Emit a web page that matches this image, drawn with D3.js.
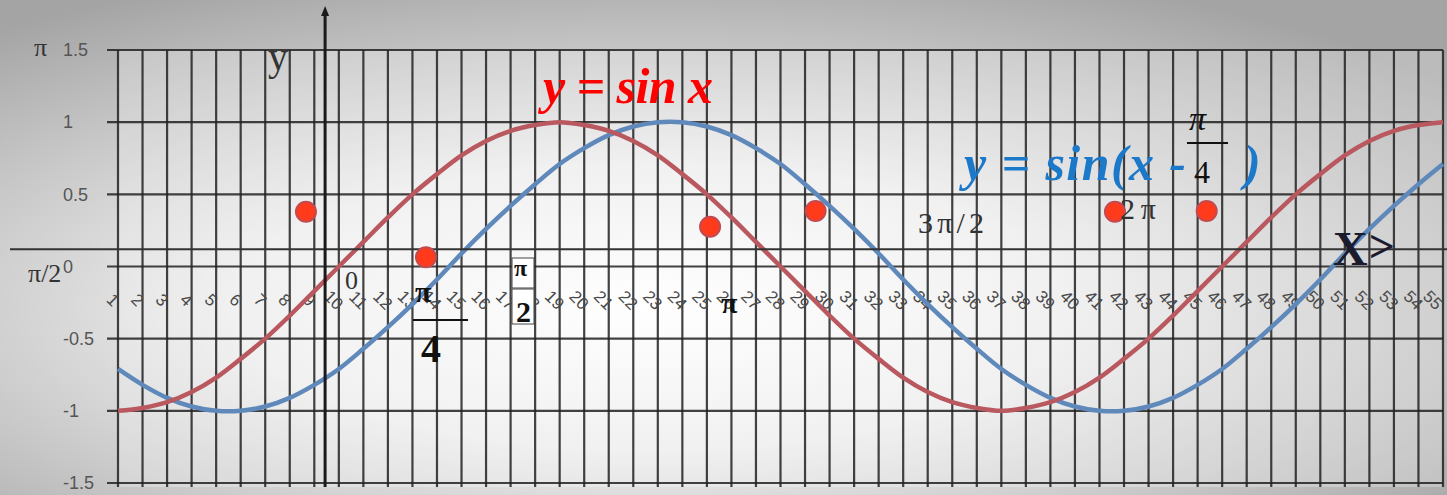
<!doctype html>
<html>
<head>
<meta charset="utf-8">
<script src="https://cdn.jsdelivr.net/npm/d3@7/dist/d3.min.js"></script>
<style>
  body {margin: 0; overflow: hidden;}
  svg {display: block;}
</style>
</head>
<body>
<svg width="1447" height="495"></svg>
<script>
// categories along the x axis (10 degree steps from -90 to 450)
const categories = [1,2,3,4,5,6,7,8,9,10,11,12,13,14,15,16,17,18,19,20,21,22,23,24,25,26,27,28,29,30,
  31,32,33,34,35,36,37,38,39,40,41,42,43,44,45,46,47,48,49,50,51,52,53,54,55];

// y = sin x
const sinValues = [-1,-0.98,-0.94,-0.87,-0.77,-0.64,-0.5,-0.34,-0.17,0,0.17,0.34,0.5,0.64,0.77,0.87,0.94,0.98,
  1,0.98,0.94,0.87,0.77,0.64,0.5,0.34,0.17,0,-0.17,-0.34,-0.5,-0.64,-0.77,-0.87,-0.94,-0.98,
  -1,-0.98,-0.94,-0.87,-0.77,-0.64,-0.5,-0.34,-0.17,0,0.17,0.34,0.5,0.64,0.77,0.87,0.94,0.98,1];

// y = sin(x - pi/4)
const shiftValues = [-0.71,-0.82,-0.91,-0.97,-1,-1,-0.97,-0.91,-0.82,-0.71,-0.57,-0.42,-0.26,-0.09,0.09,0.26,0.42,0.57,
  0.71,0.82,0.91,0.97,1,1,0.97,0.91,0.82,0.71,0.57,0.42,0.26,0.09,-0.09,-0.26,-0.42,-0.57,
  -0.71,-0.82,-0.91,-0.97,-1,-1,-0.97,-0.91,-0.82,-0.71,-0.57,-0.42,-0.26,-0.09,0.09,0.26,0.42,0.57,0.71];

// red dots pasted on the slide
const dotCats = [8.66, 13.55, 25.13, 29.43, 41.63, 45.37];
const dotValues = [0.38, 0.064, 0.276, 0.384, 0.38, 0.384];

const yTicks = [-1.5, -1, -0.5, 0, 0.5, 1, 1.5];

// hand drawn axes on top of the chart
const axisCat = 9.44;
const axisValue = 0.12;

const svg = d3.select('svg');
const W = 1447, H = 495;

const x = d3.scaleLinear().domain([1, 55]).range([118, 1443]);
const y = d3.scaleLinear().domain([-1.5, 1.5]).range([483, 50]);

// background
const defs = svg.append('defs');
const grad = defs.append('radialGradient').attr('id', 'bg')
  .attr('cx', '45%').attr('cy', '62%').attr('r', '72%');
grad.append('stop').attr('offset', '0%').attr('stop-color', '#ffffff');
grad.append('stop').attr('offset', '40%').attr('stop-color', '#ececec');
grad.append('stop').attr('offset', '100%').attr('stop-color', '#a4a4a4');
svg.append('rect').attr('width', W).attr('height', H).attr('fill', 'url(#bg)');

svg.append('rect')
  .attr('x', x(1)).attr('y', y(1.5))
  .attr('width', x(55) - x(1)).attr('height', y(-1.5) - y(1.5) + 4)
  .attr('fill', '#ffffff').attr('opacity', 0.25);

// vertical grid
svg.append('g').selectAll('line').data(categories).join('line')
  .attr('x1', d => x(d)).attr('x2', d => x(d))
  .attr('y1', y(1.5)).attr('y2', y(-1.5) + 4)
  .attr('stroke', '#222').attr('stroke-width', 2.2).attr('opacity', 0.85);

// horizontal grid
svg.append('g').selectAll('line').data(yTicks).join('line')
  .attr('x1', x(1) - 11).attr('x2', x(55))
  .attr('y1', d => y(d)).attr('y2', d => y(d))
  .attr('stroke', '#222').attr('stroke-width', 2.2).attr('opacity', 0.85);

// y labels
svg.append('g').selectAll('text').data(yTicks).join('text')
  .attr('x', 63).attr('y', d => y(d)).attr('dy', '0.35em')
  .attr('font-family', 'Liberation Sans, Arial, sans-serif').attr('font-size', 18)
  .attr('fill', '#555').text(d => String(d));

// category labels, rotated
svg.append('g').selectAll('text').data(categories).join('text')
  .attr('transform', d => `translate(${x(d) - (d === 55 ? 10 : 5)},${300}) rotate(45)`)
  .attr('text-anchor', 'middle').attr('dy', '0.35em')
  .attr('font-family', 'Liberation Sans, Arial, sans-serif').attr('font-size', 17)
  .attr('fill', '#4a4a4a').text(d => d);

// curves
const line = vals => d3.line()
  .x((d, i) => x(categories[i])).y(d => y(d))
  .curve(d3.curveCatmullRom.alpha(0.5))(vals);

svg.append('path').attr('d', line(shiftValues))
  .attr('fill', 'none').attr('stroke', '#5f89bb').attr('stroke-width', 4.5);
svg.append('path').attr('d', line(sinValues))
  .attr('fill', 'none').attr('stroke', '#b9585f').attr('stroke-width', 4.5);

// drawn axes
svg.append('line')
  .attr('x1', 10).attr('x2', W).attr('y1', y(axisValue)).attr('y2', y(axisValue))
  .attr('stroke', '#333').attr('stroke-width', 2);
svg.append('line')
  .attr('x1', x(axisCat)).attr('x2', x(axisCat)).attr('y1', 12).attr('y2', 487)
  .attr('stroke', '#1a1a1a').attr('stroke-width', 3);
svg.append('path')
  .attr('d', `M${x(axisCat)},6 L${x(axisCat) - 4},16 L${x(axisCat) + 4},16 Z`)
  .attr('fill', '#1a1a1a');

// dots
svg.append('g').selectAll('circle').data(dotCats).join('circle')
  .attr('cx', d => x(d)).attr('cy', (d, i) => y(dotValues[i]))
  .attr('r', 10).attr('fill', '#ff3b1c').attr('stroke', '#c24a50').attr('stroke-width', 2);

// white boxes behind pi/2
svg.append('rect').attr('x', 512).attr('y', 258).attr('width', 22).attr('height', 30)
  .attr('fill', '#fff').attr('stroke', '#444').attr('stroke-width', 1);
svg.append('rect').attr('x', 512).attr('y', 289).attr('width', 22).attr('height', 35)
  .attr('fill', '#fff').attr('stroke', '#444').attr('stroke-width', 1);

const serif = 'Liberation Serif, Times New Roman, serif';
const notes = [
  {t: 'π', x: 34, y: 56, s: 26, c: '#333'},
  {t: 'y', x: 268, y: 70, s: 40, c: '#333'},
  {t: 'π/2', x: 28, y: 282, s: 26, c: '#333'},
  {t: '0', x: 345, y: 289, s: 26, c: '#333'},
  {t: '3π/2', x: 918, y: 233, s: 30, c: '#333', len: 66},
  {t: '2π', x: 1120, y: 219, s: 30, c: '#333', len: 36},
  {t: 'π', x: 1189, y: 130, s: 34, c: '#111', st: 'italic'},
  {t: '4', x: 1194, y: 183, s: 32, c: '#111'},
  {t: 'π', x: 415, y: 302, s: 30, c: '#111', w: 'bold'},
  {t: '4', x: 421, y: 362, s: 40, c: '#111', w: 'bold'},
  {t: 'π', x: 514, y: 276, s: 24, c: '#111', w: 'bold'},
  {t: '2', x: 516, y: 322, s: 30, c: '#111', w: 'bold'},
  {t: 'π', x: 721, y: 313, s: 30, c: '#111', w: 'bold'},
  {t: 'y = sin x', x: 543, y: 103, s: 50, c: '#ff0000', w: 'bold', st: 'italic', len: 170},
  {t: 'y = sin(x -', x: 964, y: 180, s: 50, c: '#1c78c8', w: 'bold', st: 'italic', len: 222},
  {t: ')', x: 1244, y: 180, s: 50, c: '#1c78c8', w: 'bold', st: 'italic'}
];
const notesSel = svg.append('g').selectAll('text').data(notes).join('text')
  .attr('x', d => d.x).attr('y', d => d.y)
  .attr('font-family', serif).attr('font-size', d => d.s)
  .attr('font-weight', d => d.w || 'normal').attr('font-style', d => d.st || 'normal')
  .attr('fill', d => d.c).text(d => d.t);
notesSel.filter(d => d.len)
  .attr('textLength', d => d.len).attr('lengthAdjust', 'spacing');

// X> label as one text
const xArrow = svg.append('text').attr('x', 1333).attr('y', 265)
  .attr('font-family', serif).attr('font-weight', 'bold').attr('fill', '#1b1b2e');
xArrow.append('tspan').attr('font-size', 48).text('X');
xArrow.append('tspan').attr('font-size', 46).attr('dx', 1).attr('dy', -3).text('>');

// fraction bars
svg.append('line').attr('x1', 1187).attr('x2', 1228).attr('y1', 143).attr('y2', 143)
  .attr('stroke', '#111').attr('stroke-width', 2);
svg.append('line').attr('x1', 413).attr('x2', 468).attr('y1', 320).attr('y2', 320)
  .attr('stroke', '#111').attr('stroke-width', 2);
</script>
</body>
</html>
